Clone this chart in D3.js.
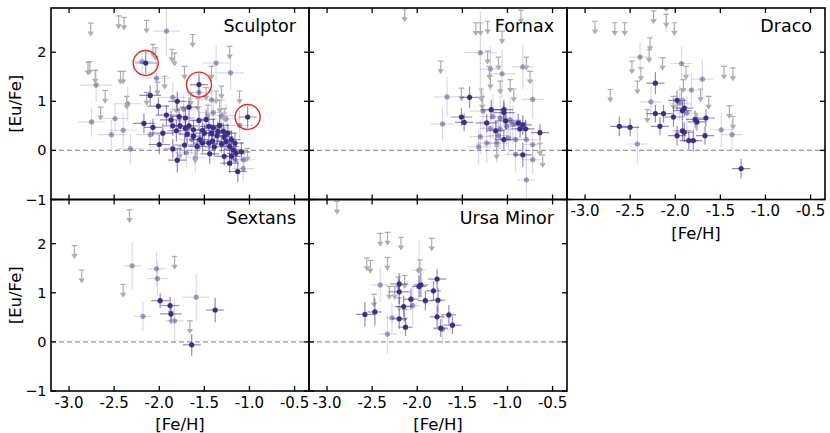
<!DOCTYPE html>
<html><head><meta charset="utf-8">
<script src="https://cdn.jsdelivr.net/npm/d3@7"></script>
<style>body{margin:0;background:#fff} svg{display:block} text{font-family:"DejaVu Sans",sans-serif;fill:#000}</style>
</head><body><svg id="c" width="830" height="433"></svg>
<script>
// ---------- tick labels ----------
const xTicks = [-3.0, -2.5, -2.0, -1.5, -1.0, -0.5];
const xTickLabels = ["-3.0", "-2.5", "-2.0", "-1.5", "-1.0", "-0.5"];
const yTicks = [-1, 0, 1, 2];
const yTickLabels = ["\u22121", "0", "1", "2"];
const galaxies = ["Sculptor", "Fornax", "Draco", "Sextans", "Ursa Minor"];

// ---------- data: [ [Fe/H], [Eu/Fe], xerr, yerr ] ----------
const sculptorDet = [
 [-2.15,1.78,0.12,0.22],[-1.56,1.34,0.10,0.22],[-1.02,0.68,0.10,0.22],[-2.10,1.12,0.12,0.20],
 [-2.01,0.90,0.12,0.18],[-2.17,0.55,0.12,0.20],[-2.07,0.47,0.10,0.18],[-2.00,0.12,0.12,0.20],
 [-1.85,0.50,0.10,0.20],[-1.87,0.62,0.12,0.18],[-1.81,0.40,0.10,0.22],[-1.80,-0.20,0.10,0.25],
 [-1.85,0.03,0.10,0.20],[-1.80,1.00,0.10,0.20],[-1.78,0.69,0.10,0.18],[-1.71,0.66,0.10,0.20],
 [-1.67,0.88,0.10,0.20],[-1.72,0.11,0.12,0.20],[-1.67,0.50,0.10,0.18],[-1.62,0.42,0.10,0.20],
 [-1.56,0.61,0.10,0.20],[-1.52,0.41,0.10,0.18],[-1.48,0.63,0.10,0.20],[-1.45,0.49,0.10,0.20],
 [-1.40,0.46,0.10,0.18],[-1.33,0.51,0.10,0.20],[-1.45,0.15,0.10,0.20],[-1.42,0.35,0.10,0.18],
 [-1.36,0.30,0.10,0.20],[-1.44,-0.07,0.10,0.20],[-1.31,0.13,0.10,0.18],[-1.28,0.28,0.10,0.20],
 [-1.26,0.18,0.10,0.18],[-1.22,0.08,0.10,0.20],[-1.18,0.01,0.10,0.20],[-1.20,-0.12,0.10,0.20],
 [-1.15,-0.06,0.10,0.18],[-1.09,-0.03,0.10,0.20],[-1.13,-0.43,0.10,0.22],[-1.22,-0.26,0.10,0.20],
 [-1.28,-0.12,0.10,0.18],[-1.39,0.07,0.10,0.20],[-1.52,0.15,0.10,0.20],[-1.58,0.08,0.10,0.18],
 [-1.71,0.45,0.10,0.20],[-1.77,0.50,0.10,0.18],[-1.69,0.33,0.10,0.20],[-1.62,0.29,0.10,0.18],
 [-1.55,0.22,0.10,0.20],[-1.50,0.35,0.10,0.18],[-1.35,0.39,0.10,0.20],[-1.29,0.39,0.10,0.18],
 [-1.24,0.35,0.10,0.20],[-1.20,0.22,0.10,0.18],[-1.16,0.15,0.10,0.20],[-1.41,0.19,0.10,0.18],
 [-1.92,0.72,0.12,0.20],[-1.96,0.35,0.12,0.20]
];
const sculptorTent = [
 [-1.92,2.43,0.15,0.50],[-1.37,1.78,0.15,0.35],[-1.21,1.58,0.15,0.35],[-2.70,1.33,0.18,0.35],
 [-2.75,0.58,0.15,0.30],[-2.49,0.65,0.15,0.30],[-2.53,0.32,0.15,0.30],[-2.40,0.41,0.15,0.35],
 [-2.32,0.03,0.15,0.30],[-2.35,0.95,0.15,0.35],[-2.03,1.47,0.15,0.35],[-1.85,1.08,0.15,0.30],
 [-1.56,1.18,0.15,0.30],[-2.10,0.32,0.15,0.30],[-1.64,0.22,0.15,0.30],[-1.60,-0.15,0.12,0.30],
 [-1.42,1.03,0.15,0.30],[-1.31,0.71,0.15,0.30],[-1.26,0.64,0.15,0.30],[-1.11,0.51,0.15,0.30],
 [-1.07,-0.37,0.12,0.25],[-2.19,1.81,0.12,0.25],[-1.70,-0.05,0.12,0.30],[-1.40,0.77,0.15,0.30],
 [-1.73,0.84,0.15,0.30],[-1.16,-0.19,0.12,0.25],[-1.06,-0.19,0.12,0.25]
];
const sculptorLim = [
 [-2.76,2.59],[-2.45,2.74],[-2.39,2.71],[-2.14,2.65],[-2.79,1.79],[-2.77,1.81],[-2.71,1.63],
 [-2.60,1.22],[-2.65,0.88],[-2.43,1.61],[-2.40,1.61],[-2.36,1.10],[-2.07,2.16],[-2.04,2.09],
 [-1.86,2.06],[-1.83,1.98],[-1.63,2.36],[-1.22,2.12],[-1.72,1.71],[-1.31,1.31],[-1.11,1.21],
 [-1.42,1.71],[-1.94,1.51],[-2.02,1.39],[-2.14,1.18],[-1.81,1.01],[-1.65,1.17],[-1.33,1.02],
 [-1.28,0.85],[-1.46,0.92],[-1.60,0.00],[-1.02,0.04],[-1.77,0.09],[-1.48,1.28],[-1.37,1.21],
 [-1.57,1.06]
];
const fornaxDet = [
 [-1.42,1.08,0.10,0.22],[-1.51,0.68,0.12,0.18],[-1.48,0.57,0.10,0.18],[-1.18,0.83,0.12,0.20],
 [-1.23,0.56,0.12,0.18],[-1.04,0.77,0.12,0.20],[-1.04,0.83,0.10,0.20],[-1.02,0.60,0.12,0.18],
 [-1.13,0.40,0.10,0.20],[-1.04,0.22,0.10,0.20],[-0.88,0.56,0.10,0.18],[-0.83,0.52,0.10,0.20],
 [-0.86,0.44,0.10,0.18],[-0.80,0.44,0.10,0.18],[-0.83,-0.09,0.10,0.25],[-0.64,0.36,0.10,0.18]
];
const fornaxTent = [
 [-1.30,1.99,0.18,0.85],[-1.67,1.09,0.15,0.40],[-1.72,0.54,0.13,0.35],[-1.06,1.56,0.15,0.50],
 [-1.19,1.66,0.12,0.45],[-0.83,1.70,0.12,0.45],[-0.72,1.04,0.12,0.40],[-1.27,0.80,0.15,0.40],
 [-1.16,0.69,0.15,0.45],[-1.08,0.66,0.12,0.45],[-0.97,0.62,0.12,0.45],[-1.30,0.28,0.12,0.35],
 [-1.23,0.15,0.12,0.40],[-1.32,0.07,0.12,0.35],[-1.12,0.15,0.12,0.40],[-0.99,0.25,0.12,0.35],
 [-0.91,0.22,0.12,0.35],[-0.79,0.22,0.12,0.30],[-0.72,0.12,0.10,0.30],[-0.72,-0.19,0.10,0.30],
 [-0.79,-0.60,0.10,0.55],[-0.91,-0.08,0.12,0.35],[-1.19,0.45,0.12,0.40],[-1.08,0.43,0.12,0.40],
 [-1.01,0.49,0.12,0.40],[-0.94,0.53,0.12,0.40],[-1.10,0.30,0.12,0.40]
];
const fornaxLim = [
 [-2.14,2.88],[-0.85,2.85],[-1.35,2.60],[-1.30,2.60],[-1.22,2.63],[-1.06,2.43],[-1.74,1.82],
 [-1.22,2.02],[-1.10,1.90],[-1.20,1.71],[-0.79,1.90],[-0.75,1.61],[-0.97,1.44],[-1.08,1.41],
 [-1.19,1.51],[-1.29,1.25],[-1.51,1.27],[-0.93,1.25],[-0.64,0.15],[-0.61,-0.09],[-1.12,0.08],
 [-1.28,1.10]
];
const dracoDet = [
 [-2.62,0.49,0.10,0.20],[-2.50,0.47,0.10,0.18],[-2.22,1.37,0.10,0.22],[-2.22,0.75,0.10,0.18],
 [-2.13,0.75,0.10,0.18],[-2.17,0.49,0.10,0.18],[-2.02,0.68,0.10,0.20],[-1.98,1.02,0.10,0.20],
 [-1.98,0.30,0.10,0.20],[-1.92,0.81,0.10,0.20],[-1.90,0.86,0.10,0.18],[-1.92,0.40,0.10,0.20],
 [-1.90,0.37,0.10,0.20],[-1.85,0.20,0.10,0.18],[-1.80,0.20,0.10,0.22],[-1.78,0.63,0.10,0.18],
 [-1.76,0.58,0.10,0.18],[-1.66,0.66,0.10,0.18],[-1.67,0.30,0.10,0.18],[-1.27,-0.37,0.10,0.20]
];
const dracoTent = [
 [-2.39,1.90,0.12,0.30],[-2.27,0.99,0.12,0.30],[-2.42,0.13,0.12,0.40],[-1.93,1.77,0.12,0.35],
 [-1.70,1.45,0.12,0.40],[-1.82,1.23,0.12,0.35],[-1.49,0.42,0.12,0.35],[-1.37,0.32,0.12,0.30],
 [-2.10,2.90,0.10,0.50],[-1.95,0.96,0.12,0.35],[-1.87,0.76,0.12,0.35]
];
const dracoLim = [
 [-2.89,2.63],[-2.67,2.60],[-2.56,2.60],[-2.24,2.84],[-2.10,2.77],[-2.01,2.60],[-2.28,2.29],
 [-2.29,2.05],[-2.48,1.82],[-2.38,1.68],[-2.14,1.89],[-2.42,1.41],[-2.72,1.24],[-2.31,0.83],
 [-1.88,1.71],[-1.91,1.44],[-1.93,1.24],[-2.02,1.10],[-1.72,1.25],[-1.63,1.10],[-1.46,1.71],
 [-1.36,1.68],[-1.40,0.91],[-1.36,0.69]
];
const sextansDet = [
 [-1.99,0.84,0.10,0.15],[-1.88,0.74,0.10,0.18],[-1.87,0.57,0.12,0.15],[-1.64,-0.06,0.10,0.22],
 [-1.38,0.65,0.10,0.25]
];
const sextansTent = [
 [-2.30,1.55,0.10,0.48],[-2.03,1.49,0.10,0.35],[-2.02,1.29,0.12,0.35],[-2.18,0.52,0.10,0.30],
 [-1.59,0.91,0.15,0.48],[-1.83,0.43,0.10,0.45]
];
const sextansLim = [
 [-2.33,2.69],[-2.94,1.96],[-2.86,1.46],[-2.40,1.17],[-1.83,1.74],[-1.87,0.62],[-1.66,0.43]
];
const umiDet = [
 [-2.58,0.56,0.10,0.25],[-2.47,0.61,0.08,0.28],[-2.20,1.18,0.10,0.22],[-2.20,1.02,0.12,0.25],
 [-2.20,0.47,0.08,0.20],[-2.15,0.72,0.10,0.22],[-2.13,0.30,0.08,0.18],[-2.07,0.87,0.08,0.22],
 [-1.98,1.13,0.08,0.22],[-1.96,1.16,0.08,0.25],[-1.91,0.84,0.08,0.20],[-1.82,1.04,0.08,0.20],
 [-1.78,1.28,0.10,0.20],[-1.77,0.85,0.08,0.25],[-1.78,0.51,0.08,0.22],[-1.74,0.28,0.08,0.18],
 [-1.65,0.55,0.08,0.20],[-1.61,0.34,0.10,0.18]
];
const umiTent = [
 [-2.41,1.16,0.10,0.35],[-2.28,0.49,0.08,0.30],[-2.33,0.16,0.10,0.40],[-1.98,1.46,0.08,0.60],
 [-2.05,0.74,0.08,0.40],[-1.72,0.26,0.10,0.30]
];
const umiLim = [
 [-2.89,2.86],[-2.41,2.21],[-2.33,2.23],[-2.18,2.13],[-1.84,2.11],[-2.56,1.71],[-2.52,1.66],
 [-2.33,1.72],[-2.48,0.97],[-2.31,1.13],[-2.25,1.13],[-2.21,1.32],[-2.14,1.35],[-2.20,0.90],
 [-1.97,1.67],[-2.14,0.66]
];
const sculptorHighlight = [[-2.15,1.78],[-1.56,1.34],[-1.02,0.68]];

// ---------- layout ----------
const W = 830, H = 433;
const colLeft = [51, 309, 567], pw = 258;
const rowTop = [8, 199.5], ph = 191.5;
const dark = "#3a2e86", greyLim = "#adadad";
const panels = [
  {name: galaxies[0], col: 0, row: 0, det: sculptorDet, tent: sculptorTent, lim: sculptorLim, hl: sculptorHighlight, yl: true, xl: false},
  {name: galaxies[1], col: 1, row: 0, det: fornaxDet, tent: fornaxTent, lim: fornaxLim, hl: [], yl: false, xl: false},
  {name: galaxies[2], col: 2, row: 0, det: dracoDet, tent: dracoTent, lim: dracoLim, hl: [], yl: false, xl: true},
  {name: galaxies[3], col: 0, row: 1, det: sextansDet, tent: sextansTent, lim: sextansLim, hl: [], yl: true, xl: true},
  {name: galaxies[4], col: 1, row: 1, det: umiDet, tent: umiTent, lim: umiLim, hl: [], yl: false, xl: true}
];

const svg = d3.select("#c");
svg.append("rect").attr("width", W).attr("height", H).attr("fill", "#fff");
const defs = svg.append("defs");

panels.forEach((p, i) => {
  const x0 = colLeft[p.col], y0 = rowTop[p.row];
  const x = d3.scaleLinear().domain([-3.2, -0.34]).range([x0, x0 + pw]);
  const y = d3.scaleLinear().domain([-1, 2.9]).range([y0 + ph, y0]);
  defs.append("clipPath").attr("id", "clip" + i).append("rect")
    .attr("x", x0).attr("y", y0).attr("width", pw).attr("height", ph);
  const g = svg.append("g").attr("clip-path", `url(#clip${i})`);

  // zero line
  g.append("line").attr("x1", x0).attr("x2", x0 + pw).attr("y1", y(0)).attr("y2", y(0))
    .attr("stroke", "#9a9a9a").attr("stroke-width", 1.3).attr("stroke-dasharray", "5,3");

  function drawPoints(data, ebOpacity, ptOpacity) {
    const gg = g.append("g");
    data.forEach(d => {
      gg.append("line").attr("x1", x(d[0] - d[2])).attr("x2", x(d[0] + d[2])).attr("y1", y(d[1])).attr("y2", y(d[1]))
        .attr("stroke", dark).attr("stroke-opacity", ebOpacity).attr("stroke-width", 1.2);
      gg.append("line").attr("x1", x(d[0])).attr("x2", x(d[0])).attr("y1", y(d[1] - d[3])).attr("y2", y(d[1] + d[3]))
        .attr("stroke", dark).attr("stroke-opacity", ebOpacity).attr("stroke-width", 1.2);
    });
    gg.selectAll("circle").data(data).join("circle")
      .attr("cx", d => x(d[0])).attr("cy", d => y(d[1])).attr("r", 2.6)
      .attr("fill", dark).attr("fill-opacity", ptOpacity);
  }
  // tentative (light) detections
  drawPoints(p.tent, 0.18, 0.45);
  // upper limits
  const lg = g.append("g").attr("stroke", greyLim).attr("fill", greyLim);
  p.lim.forEach(d => {
    const cx = x(d[0]), top = y(d[1]), bot = y(d[1] - 0.25);
    lg.append("line").attr("x1", cx - 2.8).attr("x2", cx + 2.8).attr("y1", top).attr("y2", top).attr("stroke-width", 1.2);
    lg.append("line").attr("x1", cx).attr("x2", cx).attr("y1", top).attr("y2", bot - 2).attr("stroke-width", 1.2);
    lg.append("path").attr("d", `M${cx - 3.2},${bot - 4}L${cx + 3.2},${bot - 4}L${cx},${bot + 1}Z`).attr("stroke", "none");
  });
  // solid detections
  drawPoints(p.det, 0.55, 1);

  // highlight circles
  svg.append("g").selectAll("circle").data(p.hl).join("circle")
    .attr("cx", d => x(d[0])).attr("cy", d => y(d[1])).attr("r", 12.5)
    .attr("fill", "none").attr("stroke", "#e8261f").attr("stroke-width", 1.4);

  // frame
  svg.append("rect").attr("x", x0).attr("y", y0).attr("width", pw).attr("height", ph)
    .attr("fill", "none").attr("stroke", "#000").attr("stroke-width", 1.6);

  // inward ticks on all four sides
  const tl = 5;
  const tg = svg.append("g").attr("stroke", "#000").attr("stroke-width", 1.3);
  xTicks.forEach(t => {
    tg.append("line").attr("x1", x(t)).attr("x2", x(t)).attr("y1", y0 + ph).attr("y2", y0 + ph - tl);
    tg.append("line").attr("x1", x(t)).attr("x2", x(t)).attr("y1", y0).attr("y2", y0 + tl);
  });
  yTicks.forEach(t => {
    tg.append("line").attr("x1", x0).attr("x2", x0 + tl).attr("y1", y(t)).attr("y2", y(t));
    tg.append("line").attr("x1", x0 + pw).attr("x2", x0 + pw - tl).attr("y1", y(t)).attr("y2", y(t));
  });

  if (p.xl) {
    svg.append("g").selectAll("text").data(xTicks).join("text")
      .attr("x", d => x(d)).attr("y", y0 + ph + 16.5).attr("text-anchor", "middle")
      .attr("font-size", 15).text((d, k) => xTickLabels[k]);
    svg.append("text").attr("x", x0 + pw / 2).attr("y", y0 + ph + 39).attr("text-anchor", "middle")
      .attr("font-size", 16.5).text("[Fe/H]");
  }
  if (p.yl) {
    svg.append("g").selectAll("text").data(yTicks).join("text")
      .attr("x", x0 - 4.5).attr("y", d => y(d) + 5).attr("text-anchor", "end")
      .attr("font-size", 14.5).text((d, k) => yTickLabels[k]);
    svg.append("text").attr("transform", `translate(${21},${y0 + ph / 2}) rotate(-90)`)
      .attr("text-anchor", "middle").attr("font-size", 16.5).text("[Eu/Fe]");
  }
  svg.append("text").attr("x", x0 + pw - 13).attr("y", y0 + 24).attr("text-anchor", "end")
    .attr("font-size", 17.5).text(p.name);
});
</script></body></html>
